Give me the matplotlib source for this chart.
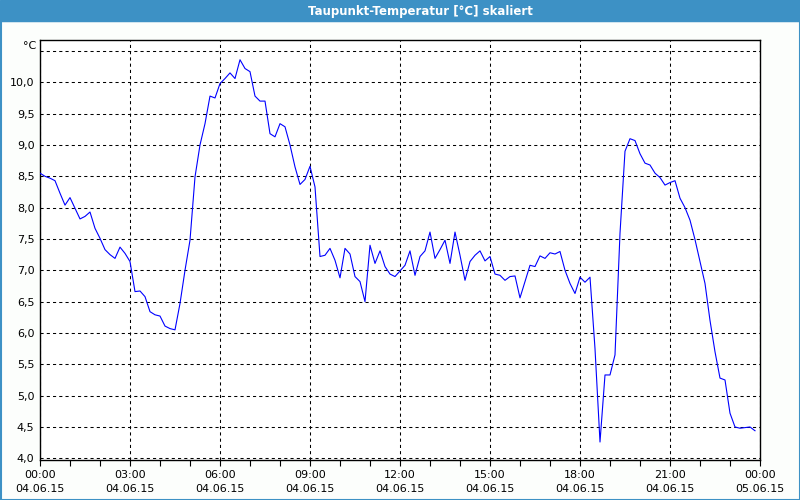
import numpy as np
import pandas as pd
import matplotlib
matplotlib.use("Agg")
import matplotlib.pyplot as plt
import matplotlib.dates as mdates
from matplotlib.ticker import MultipleLocator, FuncFormatter

# dew point, one value every 10 minutes (one row = one hour)
taupunkt = [
    8.55, 8.50, 8.47, 8.43, 8.23, 8.04,
    8.16, 7.99, 7.82, 7.86, 7.93, 7.67,
    7.51, 7.33, 7.25, 7.19, 7.37, 7.27,
    7.14, 6.66, 6.67, 6.58, 6.34, 6.29,
    6.27, 6.11, 6.07, 6.05, 6.47, 7.00,
    7.48, 8.49, 9.00, 9.34, 9.78, 9.75,
    9.98, 10.06, 10.15, 10.06, 10.36, 10.22,
    10.17, 9.78, 9.70, 9.70, 9.18, 9.13,
    9.34, 9.29, 9.00, 8.65, 8.37, 8.45,
    8.66, 8.33, 7.22, 7.24, 7.35, 7.16,
    6.88, 7.35, 7.26, 6.90, 6.82, 6.50,
    7.40, 7.11, 7.31, 7.06, 6.94, 6.90,
    6.99, 7.08, 7.31, 6.92, 7.22, 7.31,
    7.61, 7.19, 7.33, 7.48, 7.11, 7.61,
    7.24, 6.84, 7.14, 7.24, 7.31, 7.15,
    7.22, 6.94, 6.92, 6.84, 6.90, 6.91,
    6.56, 6.82, 7.08, 7.06, 7.23, 7.19,
    7.28, 7.26, 7.30, 7.00, 6.79, 6.63,
    6.89, 6.81, 6.89, 5.75, 4.26, 5.33,
    5.33, 5.65, 7.59, 8.90, 9.10, 9.07,
    8.86, 8.71, 8.68, 8.55, 8.48, 8.36,
    8.40, 8.43, 8.15, 8.00, 7.80, 7.49,
    7.14, 6.79, 6.20, 5.70, 5.28, 5.25,
    4.72, 4.50, 4.48, 4.49, 4.50, 4.44,
]
zeit = pd.date_range("2015-06-04 00:00", periods=len(taupunkt), freq="10min")

titel = "Taupunkt-Temperatur [°C] skaliert"
einheit = "°C"

fig = plt.figure(figsize=(8, 5), dpi=100, facecolor="#fcfefc")

# blue title bar + frame
fig.patches.append(plt.Rectangle((0, 1 - 21 / 500), 1, 21 / 500, transform=fig.transFigure,
                                 color="#3d91c5", zorder=0))
fig.patches.append(plt.Rectangle((0.5 / 800, 0.5 / 500), 1 - 1 / 800, 1 - 21 / 500,
                                 transform=fig.transFigure, fill=False,
                                 edgecolor="#3d91c5", lw=1.5, zorder=0))
fig.text(420 / 800, 1 - 11 / 500, titel, color="white", fontsize=8.5, fontweight="bold",
         ha="center", va="center")

ax = fig.add_axes([40 / 800, 40 / 500, 720 / 800, 420 / 500])
ax.set_facecolor("white")
ax.plot(zeit, taupunkt, color="#0000ff", lw=0.8, zorder=3)

ax.set_xlim(pd.Timestamp("2015-06-04 00:00"), pd.Timestamp("2015-06-05 00:00"))
ax.set_ylim(3.973, 10.675)

ax.xaxis.set_major_locator(mdates.HourLocator(byhour=range(0, 24, 3)))
ax.xaxis.set_minor_locator(mdates.HourLocator())
ax.xaxis.set_major_formatter(mdates.DateFormatter("%H:%M\n%d.%m.%y"))
ax.yaxis.set_major_locator(MultipleLocator(0.5))

def fmt_y(v, pos):
    if v > 10.25:
        return ""
    return ("%.1f" % v).replace(".", ",")

ax.yaxis.set_major_formatter(FuncFormatter(fmt_y))

ax.tick_params(axis="x", which="major", length=4, width=0.8, pad=3, labelsize=8,
               colors="black")
ax.tick_params(axis="x", which="minor", length=4, width=0.8)
ax.tick_params(axis="y", length=0, pad=4, labelsize=8)
for lab in ax.get_xticklabels():
    lab.set_linespacing(1.5)

ax.grid(True, which="major", color="black", lw=0.75, linestyle=(0, (3, 3)), zorder=1)
for s in ax.spines.values():
    s.set_linewidth(1.0)
    s.set_color("black")

fig.text(36 / 800, 1 - 46 / 500, einheit, fontsize=8, ha="right", va="center")

plt.savefig("out.png", dpi=100, facecolor=fig.get_facecolor())
